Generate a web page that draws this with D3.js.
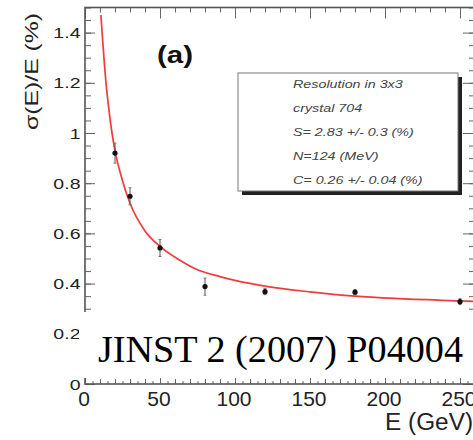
<!DOCTYPE html>
<html><head><meta charset="utf-8">
<script src="https://cdn.jsdelivr.net/npm/d3@7"></script>
<style>body{margin:0;background:#fff}svg{display:block}</style>
</head><body>
<svg id="c" width="473" height="440"></svg>
<script>
// ---- data ----
const energy = [20, 30, 50, 80, 120, 180, 250];           // GeV
const resolution = [0.92, 0.748, 0.542, 0.388, 0.368, 0.366, 0.328]; // %
const resError = [0.04, 0.034, 0.034, 0.034, 0.012, 0.01, 0.012];
const fitEnergy = [10.6, 12, 14, 16, 18, 20, 25, 30, 40, 50, 63, 75, 90, 100, 120, 150, 180, 210, 250, 260];
const fitSigma = [1.47, 1.35, 1.20, 1.09, 1.00, 0.93, 0.81, 0.72, 0.61, 0.548, 0.494, 0.455, 0.428, 0.413, 0.39, 0.367, 0.35, 0.34, 0.331, 0.329];
const xTicks = [0, 50, 100, 150, 200, 250];
const yTicks = [0, 0.2, 0.4, 0.6, 0.8, 1, 1.2, 1.4];
const legendLines = ["Resolution in 3x3", "crystal 704", "S= 2.83 +/- 0.3 (%)", "N=124 (MeV)", "C= 0.26 +/- 0.04 (%)"];
const panelLabel = "(a)";
const xTitle = "E (GeV)";
const yTitle = "σ(E)/E (%)";
const stamp = "JINST 2 (2007) P04004";

const svg = d3.select("#c");
const x = d3.scaleLinear().domain([0, 260]).range([85, 475]);
const y = d3.scaleLinear().domain([0, 1.5]).range([384, 7.5]);
const X0 = x(0), X1 = x(260), Y0 = y(0), Y1 = y(1.5);
const tickCol = "#666";
const textCol = "#222";

function stretch(sel, f) {
  sel.each(function () {
    const w = this.getComputedTextLength();
    d3.select(this).attr("textLength", w * f).attr("lengthAdjust", "spacingAndGlyphs");
  });
}
function range(a, b, s) { const r = []; for (let v = a; v <= b + 1e-9; v += s) r.push(+v.toFixed(4)); return r; }

// ticks via d3 axes
function addAxis(axis, tx, ty) {
  const g = svg.append("g").attr("transform", `translate(${tx},${ty})`).call(axis);
  g.select(".domain").remove();
  g.selectAll(".tick line").attr("stroke", tickCol);
  g.selectAll("text").remove();
  return g;
}
// bottom (ticks upward)
addAxis(d3.axisBottom(x).tickValues(range(0, 260, 5)).tickSize(-3).tickFormat(""), 0, Y0);
addAxis(d3.axisBottom(x).tickValues(range(0, 260, 10)).tickSize(-5).tickFormat(""), 0, Y0);
addAxis(d3.axisBottom(x).tickValues(xTicks).tickSize(-9).tickFormat(""), 0, Y0);
// top (ticks downward)
addAxis(d3.axisTop(x).tickValues(range(0, 260, 10)).tickSize(-5).tickFormat(""), 0, Y1);
addAxis(d3.axisTop(x).tickValues(xTicks).tickSize(-11).tickFormat(""), 0, Y1);
// left (ticks to the right)
addAxis(d3.axisLeft(y).tickValues(range(0, 1.5, 0.05)).tickSize(-6).tickFormat(""), X0, 0);
addAxis(d3.axisLeft(y).tickValues(yTicks).tickSize(-10).tickFormat(""), X0, 0);
// right (ticks to the left)
addAxis(d3.axisRight(y).tickValues(range(0, 1.5, 0.05)).tickSize(-6).tickFormat(""), X1, 0);
addAxis(d3.axisRight(y).tickValues(yTicks).tickSize(-12).tickFormat(""), X1, 0);

// frame
svg.append("rect").attr("x", X0).attr("y", Y1).attr("width", X1 - X0).attr("height", Y0 - Y1)
  .attr("fill", "none").attr("stroke", "#555").attr("stroke-width", 1.6);

// y tick labels
const fmt = d3.format("~g");
svg.append("g").selectAll("text").data(yTicks).join("text")
  .attr("x", 80.5).attr("y", d => y(d) + 5.5)
  .attr("text-anchor", "end").attr("font-family", "Liberation Sans, Arial, sans-serif")
  .attr("font-size", 15).attr("fill", textCol).text(d => fmt(d))
  .call(stretch, 1.3);

// x tick labels
svg.append("g").selectAll("text").data(xTicks).join("text")
  .attr("x", d => x(d) - 1).attr("y", 406)
  .attr("text-anchor", "middle").attr("font-family", "Liberation Sans, Arial, sans-serif")
  .attr("font-size", 21).attr("fill", textCol).text(d => d);

// axis titles
svg.append("text").attr("transform", "translate(38,13) rotate(-90)")
  .attr("text-anchor", "end").attr("font-family", "Liberation Sans, Arial, sans-serif")
  .attr("font-size", 19).attr("fill", textCol).text(yTitle)
  .attr("textLength", 117).attr("lengthAdjust", "spacingAndGlyphs");
svg.append("text").attr("x", 385).attr("y", 430)
  .attr("font-family", "Liberation Sans, Arial, sans-serif")
  .attr("font-size", 23).attr("fill", textCol).text(xTitle)
  .attr("textLength", 88).attr("lengthAdjust", "spacingAndGlyphs");

// panel label
svg.append("text").attr("x", 157).attr("y", 63)
  .attr("font-family", "Liberation Sans, Arial, sans-serif").attr("font-weight", "bold")
  .attr("font-size", 24).attr("fill", "#111").text(panelLabel)
  .attr("textLength", 36).attr("lengthAdjust", "spacingAndGlyphs");

// legend box with shadow
svg.append("rect").attr("x", 242).attr("y", 77).attr("width", 220).attr("height", 118).attr("fill", "#222");
svg.append("rect").attr("x", 238).attr("y", 73).attr("width", 220).attr("height", 118)
  .attr("fill", "#fff").attr("stroke", "#777").attr("stroke-width", 1);
svg.append("g").selectAll("text").data(legendLines).join("text")
  .attr("x", 293).attr("y", (d, i) => 88 + i * 24)
  .attr("font-family", "Liberation Sans, Arial, sans-serif").attr("font-style", "italic")
  .attr("font-size", 11).attr("fill", "#444").text(d => d)
  .call(stretch, 1.3);

// fit curve
const line = d3.line().x((d, i) => x(fitEnergy[i])).y(d => y(d)).curve(d3.curveMonotoneX);
svg.append("path").datum(fitSigma).attr("d", line)
  .attr("fill", "none").attr("stroke", "#f03c3c").attr("stroke-width", 1.7);

// data points with error bars
const pts = svg.append("g").selectAll("g").data(energy).join("g");
pts.append("line").attr("x1", d => x(d)).attr("x2", d => x(d))
  .attr("y1", (d, i) => y(resolution[i] - resError[i])).attr("y2", (d, i) => y(resolution[i] + resError[i]))
  .attr("stroke", "#555").attr("stroke-width", 1);
pts.append("line").attr("x1", d => x(d) - 1.5).attr("x2", d => x(d) + 1.5)
  .attr("y1", (d, i) => y(resolution[i] + resError[i])).attr("y2", (d, i) => y(resolution[i] + resError[i]))
  .attr("stroke", "#777");
pts.append("line").attr("x1", d => x(d) - 1.5).attr("x2", d => x(d) + 1.5)
  .attr("y1", (d, i) => y(resolution[i] - resError[i])).attr("y2", (d, i) => y(resolution[i] - resError[i]))
  .attr("stroke", "#777");
pts.append("circle").attr("cx", d => x(d)).attr("cy", (d, i) => y(resolution[i])).attr("r", 2.6).attr("fill", "#111");

// white overlay with stamp
svg.append("rect").attr("x", 79).attr("y", 312).attr("width", 400).attr("height", 66).attr("fill", "#fff");
svg.append("text").attr("x", 98).attr("y", 362)
  .attr("font-family", "Liberation Serif, Times New Roman, serif")
  .attr("font-size", 38).attr("fill", "#000").text(stamp)
  .attr("textLength", 365).attr("lengthAdjust", "spacingAndGlyphs");
</script>
</body></html>
